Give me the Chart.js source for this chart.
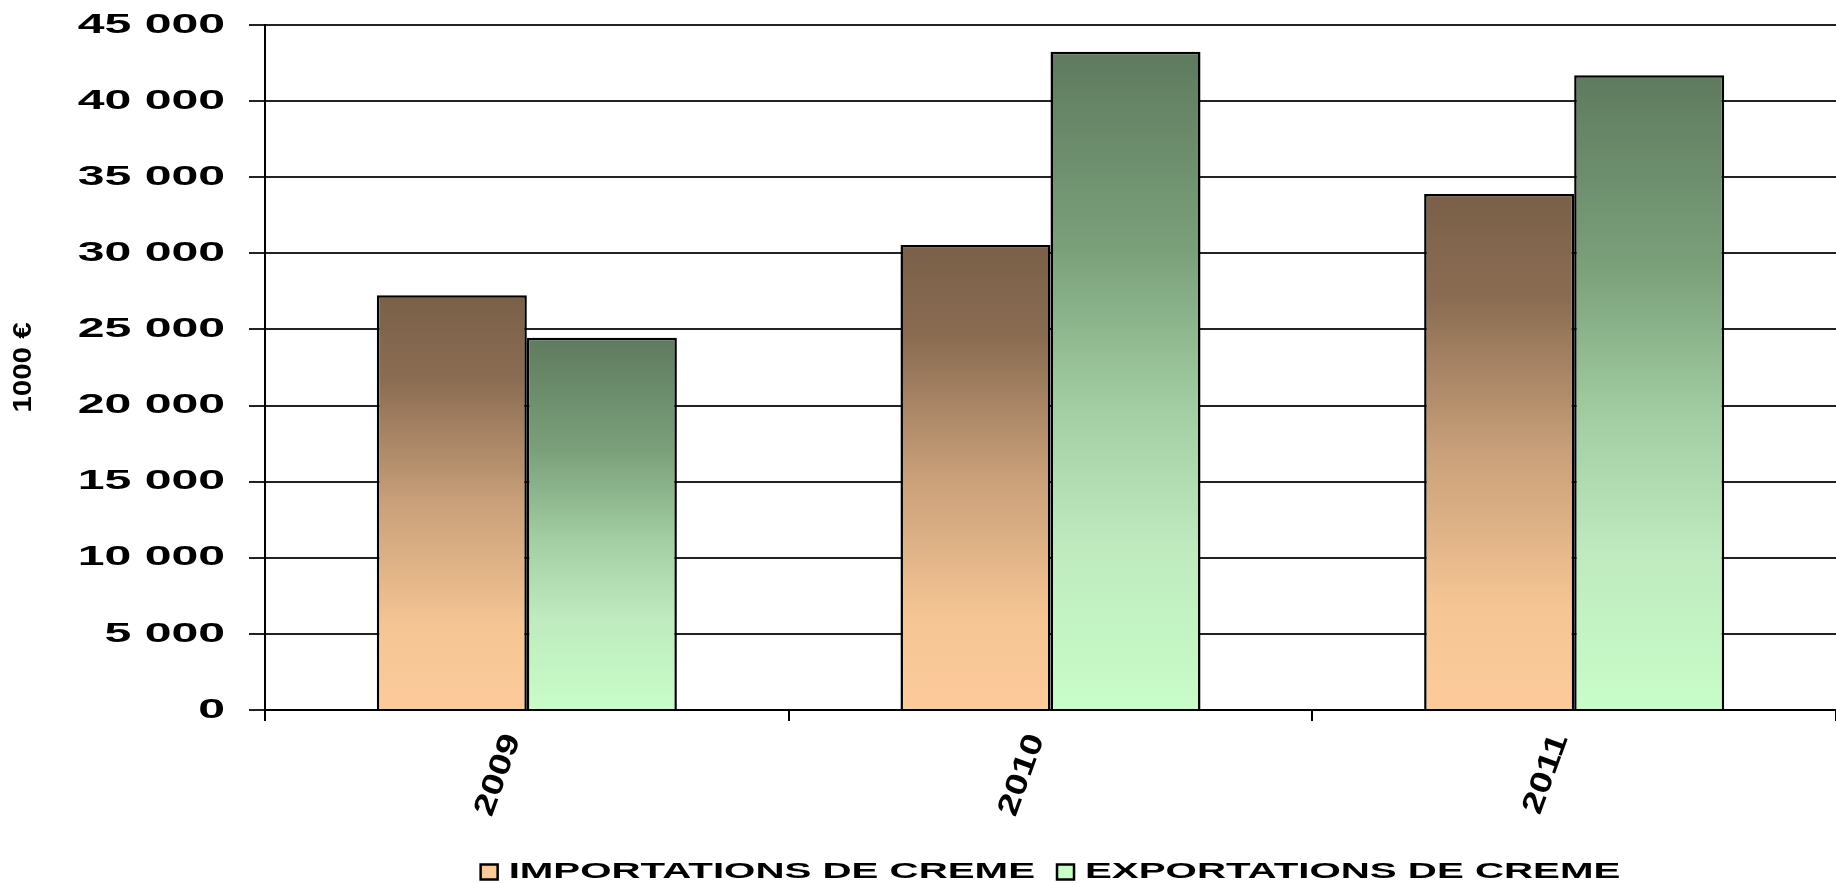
<!DOCTYPE html>
<html>
<head>
<meta charset="utf-8">
<script src="https://cdn.jsdelivr.net/npm/chart.js@4"></script>
<style>
  html, body { margin: 0; padding: 0; background: #fff; }
  canvas { display: block; }
</style>
</head>
<body>
<canvas id="chartCreme" width="1836" height="883"></canvas>
<script>
const years = ['2009', '2010', '2011'];
const importations = [27250, 30550, 33900];
const exportations = [24450, 43250, 41700];
const yMax = 45000;
const yStep = 5000;

const importStops = [[0, '#7a6049'], [0.2, '#8a6c52'], [0.5, '#c9a07a'], [0.8, '#f5c594'], [1, '#fdcb9b']];
const exportStops = [[0, '#5f7a5f'], [0.3, '#7aa07a'], [0.55, '#a4cfa4'], [0.75, '#bfeabf'], [1, '#c8fdc8']];

// the original uses widened fonts: horizontal stretch per font size
const textStretch = { 28: 1.72, 22: 1.83, 30: 1.27, 25: 1.18 };

function stretchFor(font) {
    const m = /(\d+(?:\.\d+)?)px/.exec(font);
    return (m && textStretch[Math.round(parseFloat(m[1]))]) || 1;
}

function widenText(ctx) {
    const origFill = ctx.fillText;
    const origMeasure = ctx.measureText;
    ctx.fillText = function(text, x, y, maxWidth) {
        const k = stretchFor(this.font);
        if (k === 1) {
            return maxWidth === undefined ? origFill.call(this, text, x, y) : origFill.call(this, text, x, y, maxWidth);
        }
        this.save();
        this.translate(x, y);
        this.scale(k, 1);
        origFill.call(this, text, 0, 0);
        this.restore();
    };
    ctx.measureText = function(text) {
        const m = origMeasure.call(this, text);
        const k = stretchFor(this.font);
        if (k === 1) return m;
        return {
            width: m.width * k,
            actualBoundingBoxLeft: m.actualBoundingBoxLeft * k,
            actualBoundingBoxRight: m.actualBoundingBoxRight * k,
            actualBoundingBoxAscent: m.actualBoundingBoxAscent,
            actualBoundingBoxDescent: m.actualBoundingBoxDescent
        };
    };
}

function makeGradient(ctx, top, bottom, stops) {
    const g = ctx.createLinearGradient(0, top, 0, bottom);
    stops.forEach(function(s) { g.addColorStop(s[0], s[1]); });
    return g;
}

// one gradient per bar, dark at the top of the bar, light at the axis
function barFill(stops) {
    return function(context) {
        const chart = context.chart;
        if (!chart.chartArea || context.type !== 'data') {
            return stops[2][1];
        }
        const y = chart.scales.y;
        return makeGradient(chart.ctx, y.getPixelForValue(context.parsed.y), y.getPixelForValue(0), stops);
    };
}

function formatThousands(value) {
    return String(value).replace(/\B(?=(\d{3})+(?!\d))/g, ' ');
}

const legendPlacePlugin = {
    id: 'legendPlace',
    afterLayout: function(chart) {
        const lg = chart.legend;
        if (!lg) return;
        lg.left = chart.chartArea.left;
        lg.right = chart.chartArea.right;
        lg.top += 10;
        lg.bottom += 10;
        const labels = lg.options.labels;
        const boxTop = lg.top + labels.padding + Math.max((labels.font.size - labels.boxHeight) / 2, 0);
        const allStops = [importStops, exportStops];
        (lg.legendItems || []).forEach(function(item, i) {
            item.fillStyle = makeGradient(chart.ctx, boxTop, boxTop + labels.boxHeight, allStops[i]);
        });
    }
};

const canvas = document.getElementById('chartCreme');
widenText(canvas.getContext('2d'));

new Chart(canvas, {
    type: 'bar',
    data: {
        labels: years,
        datasets: [{
            label: 'IMPORTATIONS DE CREME',
            data: importations,
            backgroundColor: barFill(importStops),
            borderColor: '#000',
            borderWidth: 2.5,
            categoryPercentage: 0.573,
            barPercentage: 1
        }, {
            label: 'EXPORTATIONS DE CREME',
            data: exportations,
            backgroundColor: barFill(exportStops),
            borderColor: '#000',
            borderWidth: 2.5,
            categoryPercentage: 0.573,
            barPercentage: 1
        }]
    },
    options: {
        responsive: false,
        animation: false,
        layout: {
            padding: { top: 25, right: 0, left: 0, bottom: 0 }
        },
        plugins: {
            tooltip: { enabled: false },
            legend: {
                position: 'bottom',
                labels: {
                    color: '#000',
                    boxWidth: 17,
                    boxHeight: 15,
                    padding: 22,
                    font: { family: 'Liberation Sans', weight: 'bold', size: 22 }
                }
            }
        },
        scales: {
            x: {
                grid: {
                    drawOnChartArea: false,
                    drawTicks: true,
                    tickLength: 11,
                    color: '#000',
                    lineWidth: 2
                },
                border: { color: '#000', width: 2 },
                ticks: {
                    color: '#000',
                    minRotation: 70,
                    maxRotation: 70,
                    padding: 8,
                    labelOffset: -14,
                    font: { family: 'Liberation Sans', weight: 'bold', size: 30 }
                },
                afterFit: function(scale) { scale.height = 119; }
            },
            y: {
                min: 0,
                max: yMax,
                grid: {
                    color: '#222',
                    lineWidth: 2,
                    tickLength: 16
                },
                border: { color: '#000', width: 2 },
                ticks: {
                    stepSize: yStep,
                    color: '#000',
                    padding: 24,
                    font: { family: 'Liberation Sans', weight: 'bold', size: 28 },
                    callback: formatThousands
                },
                title: {
                    display: true,
                    text: '1000 €',
                    color: '#000',
                    padding: { top: 9 },
                    font: { family: 'Liberation Sans', weight: 'bold', size: 25 }
                },
                afterFit: function(scale) {
                    scale.width = 265;
                    scale.paddingTop = 0;
                    scale.paddingBottom = 0;
                }
            }
        }
    },
    plugins: [legendPlacePlugin]
});
</script>
</body>
</html>
